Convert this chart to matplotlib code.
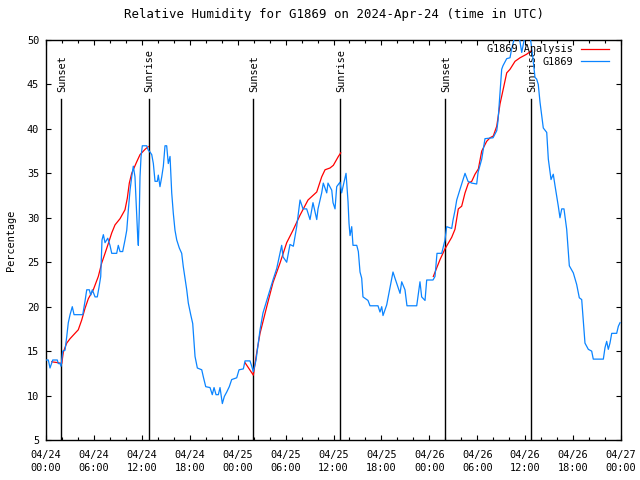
import numpy as np
import pandas as pd
import matplotlib
matplotlib.use('Agg')
import matplotlib.pyplot as plt
import matplotlib.dates as mdates
from matplotlib.ticker import MultipleLocator

start = pd.Timestamp('2024-04-24 00:00')
nan = np.nan

# Observaciones G1869: horas desde 04/24 00:00 UTC y humedad relativa (%)
obs_hours = [0.00, 0.29, 0.50, 0.84, 1.41, 1.54, 1.75, 1.88, 2.09, 2.38, 2.59, 2.79, 3.01, 3.29, 3.51,
             4.60, 4.88, 5.10, 5.42, 5.60, 5.80, 6.14, 6.42, 6.64, 6.85, 7.01, 7.18, 7.39, 7.73, 8.01,
             8.23, 8.85, 9.05, 9.27, 9.60, 9.89, 10.11, 10.31, 10.52, 10.73, 10.93, 11.14, 11.36, 11.48,
             11.56, 11.68, 11.77, 11.90, 12.06, 12.61, 12.81, 13.02, 13.24, 13.44, 13.65, 13.94, 14.06,
             14.27, 14.49, 14.69, 14.90, 15.11, 15.31, 15.53, 15.74, 15.94, 16.15, 16.37, 16.69, 16.99,
             17.19, 17.62, 17.82, 18.12, 18.37, 18.53, 18.66, 18.95, 19.50, 19.70, 20.00, 20.54, 20.82,
             21.04, 21.29, 21.58, 21.79, 22.08, 22.33, 22.63, 22.95, 23.25, 23.88, 24.17, 24.71, 24.92,
             25.54, 25.76, 25.96, 26.30, 26.80, 27.17, 27.64, 28.05, 28.42, 28.89, 29.51, 29.68, 30.14,
             30.55, 30.97, 31.39, 31.81, 32.18, 32.64, 33.06, 33.43, 33.90, 34.06, 34.52, 34.72, 35.15,
             35.31, 35.78, 35.94, 36.19, 36.40, 36.81, 37.02, 37.19, 37.57, 37.82, 37.94, 38.07, 38.28,
             38.44, 38.91, 39.11, 39.32, 39.53, 39.69, 40.32, 40.57, 41.57, 41.82, 42.04, 42.20, 42.66,
             43.08, 43.45, 43.70, 44.33, 44.54, 44.95, 45.20, 46.42, 46.83, 47.04, 47.46, 47.67, 48.46,
             48.71, 48.96, 49.55, 49.96, 50.17, 50.80, 50.96, 51.21, 51.43, 51.84, 52.47, 52.84, 53.31,
             53.93, 54.10, 54.56, 54.97, 55.98, 56.44, 56.60, 57.06, 57.22, 57.69, 58.10, 58.31, 58.73,
             59.23, 59.57, 59.98, 60.61, 60.94, 61.23, 61.44, 61.64, 61.86, 62.27, 62.70, 62.90, 63.24,
             63.52, 63.74, 64.15, 64.36, 64.58, 64.86, 65.20, 65.53, 66.03, 66.45, 66.78, 67.08, 67.28,
             67.49, 67.91, 68.33, 68.53, 69.79, 70.00, 70.21, 70.41, 70.62, 70.84, 71.46, 71.67, 71.88]
obs_rh = [14, 14, 13.1, 14, 14, 13.6, 13.6, 13.3, 15, 15.1, 16.6, 18.2, 19.1, 20, 19.1,
          19.1, 20.6, 21.9, 21.9, 21.3, 21.9, 21.1, 21.1, 22.2, 23.4, 27.5, 28.1, 27.2, 27.7, 26.9,
          26, 26, 26.9, 26.2, 26.2, 27.5, 28.6, 30.9, 33.1, 34.6, 35.8, 34.6, 30.1, 27.9,
          26.9, 30.5, 34.6, 36.9, 38.1, 38.1, 37.6, 37.4, 37.1, 36.1, 34.1, 34.1, 34.8,
          33.5, 34.6, 35.8, 38.1, 38.1, 36.1, 36.9, 32.8, 30.5, 28.6, 27.5, 26.6, 26,
          24.5, 21.9, 20.4, 19.1, 18.1, 16.1, 14.4, 13.1, 12.9, 12.1, 11, 10.9, 10.1,
          10.9, 10.1, 10.1, 10.9, 9.1, 9.9, 10.4, 11, 11.8, 12, 12.9, 13, 13.9,
          13.9, 13.3, 12.7, 14, 17.4, 19.3, 20.7, 21.9, 23, 24.3, 26.9, 25.6, 25,
          27, 26.8, 29, 32, 31, 31, 29.8, 31.7, 29.8, 31, 32.8, 33.9, 32.8,
          33.9, 33.1, 31.7, 31, 33.5, 34, 32.8, 33.5, 35, 31.8, 29.4, 28, 29,
          26.9, 26.9, 26.2, 23.9, 23.2, 21.1, 20.7, 20.1, 20.1, 19.4, 20, 19, 20.2,
          22.2, 23.9, 23.2, 21.5, 22.8, 21.9, 20.1, 20.1, 22.8, 21.1, 20.7, 23, 23,
          23.4, 26, 26, 27.5, 29, 28.8, 29.7, 30.8, 32, 33.2, 35, 34.1, 33.9,
          33.8, 35.1, 36.6, 38.9, 39, 39.8, 40.9, 46.7, 47.1, 47.9, 48, 49, 50.5,
          50.5, 48.6, 50.5, 50.5, 48.2, 45.8, 45.6, 45, 43, 40.1, 39.6, 36.6, 34.3,
          34.9, 33.6, 31.3, 30, 31, 31, 28.7, 24.6, 23.8, 22.5, 21, 20.8, 18.4,
          15.9, 15.2, 15, 14.1, 14.1, 15.4, 16.1, 15.2, 15.9, 17, 17, 17.8, 18.2]

# Analisis G1869 (nan separa los tramos nocturnos)
ana_hours = [0.71, 1.50, 1.97, 2.17, 2.59, 3.01, 3.42, 4.04, 4.47, 4.88, 5.30, 5.92, 6.55, 6.97,
             7.39, 7.80, 8.23, 8.64, 9.27, 9.89, 10.18, 10.43, 10.73, 11.36, 11.77, 12.40, 12.81,
             nan,
             24.92, 25.96, 26.38, 26.80, 27.64, 28.42, 29.30, 30.14, 30.93, 31.81, 32.81, 33.90,
             34.52, 34.94, 35.56, 35.98, 36.61, 36.90,
             nan,
             48.50, 49.34, 49.96, 50.80, 51.21, 51.63, 52.05, 52.47, 52.89, 53.31, 53.72, 54.14,
             54.56, 55.18, 55.60, 56.01, 56.44, 56.64, 56.85, 57.26, 57.69, 58.10, 58.73, 59.36,
             60.19, 60.81]
ana_rh = [13.8, 13.7, 13.6, 14.9, 15.9, 16.4, 16.8, 17.4, 18.5, 19.8, 20.9, 21.9, 23.4, 24.9,
          26, 27.1, 28.3, 29.2, 29.9, 30.9, 32.2, 33.9, 35, 36.3, 37.1, 37.7, 38,
          nan,
          13.7, 12.3, 14.8, 17, 20, 22.7, 24.9, 27.2, 28.6, 30.3, 32, 32.9,
          34.6, 35.4, 35.6, 35.9, 36.9, 37.3,
          nan,
          23.4, 25.3, 26.5, 27.8, 28.7, 31, 31.3, 32.8, 33.9, 34.1, 34.9, 35.5,
          37.5, 38.6, 39, 39.2, 40.3, 41.5, 42.8, 44.5, 46.3, 46.7, 47.6, 48,
          48.4, 48.8]

sun_times = ['2024-04-24 01:56', '2024-04-24 12:50', '2024-04-25 01:58',
             '2024-04-25 12:49', '2024-04-26 02:00', '2024-04-26 12:47']
sun_labels = ['Sunset', 'Sunrise', 'Sunset', 'Sunrise', 'Sunset', 'Sunrise']

obs_t = start + pd.to_timedelta(obs_hours, unit='h')
ana_t = start + pd.to_timedelta(ana_hours, unit='h')

plt.rcParams['font.family'] = ['DejaVu Sans Mono']
plt.rcParams['font.size'] = 7.4

fig = plt.figure(figsize=(6.4, 4.8), dpi=100)
ax = fig.add_axes([0.0719, 0.0833, 0.8984, 0.8334])

# lineas de puesta y salida del sol
for t, lab in zip(sun_times, sun_labels):
    tt = pd.Timestamp(t)
    ax.plot([tt, tt], [5, 43.4], color='black', lw=1.0, zorder=1)
    ax.text(tt + pd.Timedelta(minutes=6), 44.1, lab, rotation=90, ha='center', va='bottom')

ax.plot(ana_t, ana_rh, color='#ff0000', lw=0.9, label='G1869 Analysis', zorder=2)
ax.plot(obs_t, obs_rh, color='#0a84ff', lw=0.9, label='G1869', zorder=3)

ax.set_xlim(start, start + pd.Timedelta(hours=72))
ax.set_ylim(5, 50)
ax.yaxis.set_major_locator(MultipleLocator(5))
ax.xaxis.set_major_locator(mdates.HourLocator(byhour=[0, 6, 12, 18]))
ax.xaxis.set_minor_locator(mdates.HourLocator(byhour=range(0, 24, 2)))
ax.xaxis.set_major_formatter(mdates.DateFormatter('%m/%d\n%H:%M'))
ax.tick_params(which='major', direction='in', length=3.5, width=0.8, top=True, right=True, pad=5)
ax.tick_params(axis='x', which='major', pad=7)
ax.tick_params(which='minor', direction='in', length=2, width=0.8, top=True, right=True)
for lbl in ax.get_xticklabels():
    lbl.set_linespacing(1.35)
for s in ax.spines.values():
    s.set_linewidth(1.0)

ax.set_ylabel('Percentage', labelpad=8)
ax.set_title('Relative Humidity for G1869 on 2024-Apr-24 (time in UTC)', pad=16)

ax.legend(loc='upper right', frameon=False, markerfirst=False, handlelength=2.7,
          handletextpad=0.8, borderaxespad=0.2, labelspacing=0.25,
          bbox_to_anchor=(0.99, 1.005))

fig.savefig('out.png', dpi=100)
